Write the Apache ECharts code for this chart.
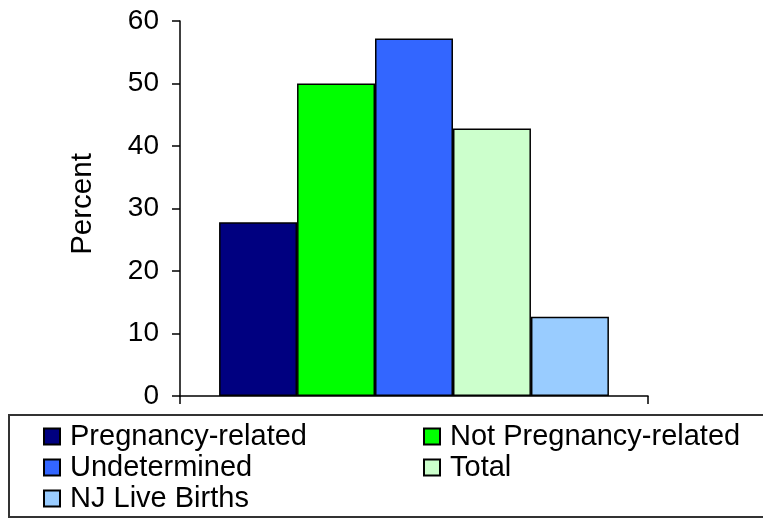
<!DOCTYPE html>
<html>
<head>
<meta charset="utf-8">
<script src="https://cdn.jsdelivr.net/npm/echarts@6/dist/echarts.min.js"></script>
<style>html,body{margin:0;padding:0;background:#fff;}#c{width:763px;height:519px;}</style>
</head>
<body>
<div id="c"></div>
<script>
var categories = [''];
var seriesNames = ['Pregnancy-related', 'Not Pregnancy-related', 'Undetermined', 'Total', 'NJ Live Births'];
var seriesValues = [27.8, 50.0, 57.2, 42.8, 12.7];
var seriesColors = ['#000080', '#00FF00', '#3366FF', '#CCFFCC', '#99CCFF'];
var yTicks = [0, 10, 20, 30, 40, 50, 60];

var FONT = 'Liberation Sans, Arial, sans-serif';
var chart = echarts.init(document.getElementById('c'), null, {renderer: 'canvas'});

var series = seriesNames.map(function (n, i) {
  return {
    name: n,
    type: 'bar',
    data: [seriesValues[i]],
    barGap: 0,
    barCategoryGap: '16.7%',
    itemStyle: {color: seriesColors[i], borderColor: '#000', borderWidth: 1.5},
    emphasis: {disabled: true},
    animation: false
  };
});

var legendCommon = {
  orient: 'vertical',
  icon: 'rect',
  itemWidth: 16,
  itemHeight: 16,
  itemGap: 2,
  padding: 0,
  height: 100,
  selectedMode: false,
  textStyle: {fontFamily: FONT, fontSize: 29, color: '#000', lineHeight: 29, padding: [0, 0, 0, 5]}
};

chart.setOption({
  backgroundColor: '#fff',
  animation: false,
  grid: {left: 180, right: 115, top: 21, bottom: 123, containLabel: false},
  xAxis: {
    type: 'category',
    data: categories,
    axisLine: {lineStyle: {color: '#000', width: 1.5}},
    axisTick: {show: true, length: 8, lineStyle: {color: '#000', width: 1.5}},
    axisLabel: {show: false},
    splitLine: {show: false}
  },
  yAxis: {
    type: 'value',
    min: yTicks[0],
    max: yTicks[yTicks.length - 1],
    interval: 10,
    axisLine: {show: true, lineStyle: {color: '#000', width: 1.5}},
    axisTick: {show: true, inside: false, length: 8, lineStyle: {color: '#000', width: 1.5}},
    axisLabel: {fontFamily: FONT, fontSize: 28, color: '#000', margin: 21},
    splitLine: {show: false}
  },
  legend: [
    Object.assign({}, legendCommon, {left: 43, top: 422, data: [seriesNames[0], seriesNames[2], seriesNames[4]]}),
    Object.assign({}, legendCommon, {left: 423, top: 422, data: [seriesNames[1], seriesNames[3]]})
  ],
  graphic: [
    {type: 'rect', shape: {x: 9, y: 415, width: 760, height: 102}, style: {fill: 'none', stroke: '#333', lineWidth: 2}, z: -1},
    {type: 'text', x: 83, y: 204, rotation: Math.PI / 2,
     style: {text: 'Percent', fontFamily: FONT, fontSize: 29.5, fill: '#000', align: 'center', verticalAlign: 'middle'}}
  ],
  series: series
});
</script>
</body>
</html>
